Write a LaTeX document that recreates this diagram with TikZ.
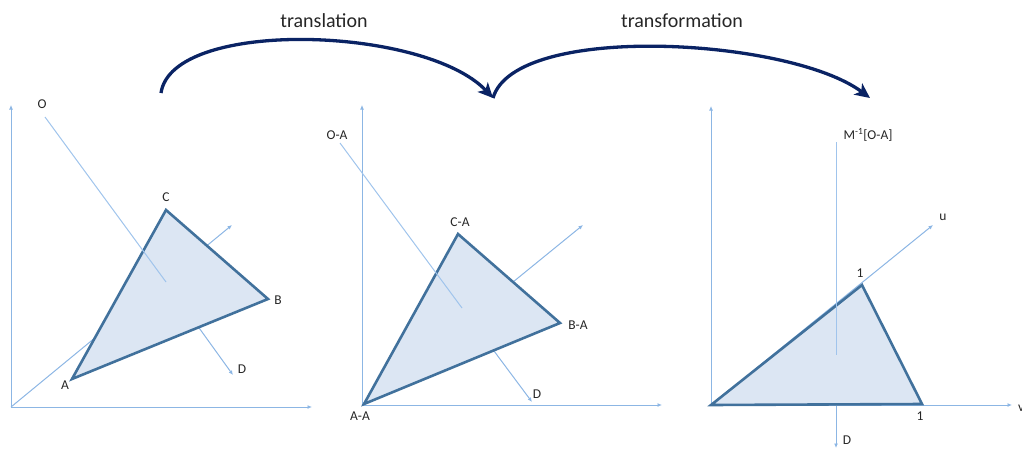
\documentclass[tikz,border=0pt]{standalone}
\usepackage{fontspec}
\setmainfont{Carlito}
\usetikzlibrary{arrows.meta}
\definecolor{axisblue}{RGB}{140,182,228}
\definecolor{faintblue}{RGB}{160,196,236}
\definecolor{triedge}{RGB}{65,113,156}
\definecolor{trifill}{RGB}{220,230,243}
\definecolor{navy}{RGB}{10,35,100}
\tikzset{
  axis/.style={draw=axisblue, line width=1pt, -{Latex[length=4.5pt,width=4pt]}},
  guide/.style={draw=faintblue, line width=1pt},
  tri/.style={draw=triedge, fill=trifill, line width=2.6pt, line join=miter},
  lbl/.style={font=\fontsize{13.5}{16}\selectfont, text=black!85, inner sep=0pt},
  ttl/.style={font=\fontsize{20}{24}\selectfont, text=black!85, inner sep=0pt},
  bigarc/.style={draw=navy, line width=3.3pt, -{Stealth[length=15pt,width=14pt,inset=4pt]}}
}
\begin{document}
\begin{tikzpicture}[x=1pt,y=-1pt]
\useasboundingbox (0,0) rectangle (1022,450);
% ---------- panel 1 ----------
\coordinate (o1) at (11,407);
\coordinate (A) at (72,379);
\coordinate (B) at (268,299);
\coordinate (C) at (166,210);
\coordinate (m1) at (166,282);
\coordinate (y1) at (11,105);
\coordinate (x1) at (312,407);
\coordinate (u1) at (232,225);
\coordinate (d1) at (233,375);
\coordinate (s1) at (45,117);
\draw[axis] (o1) -- (y1);
\draw[axis] (o1) -- (x1);
\draw[axis] (o1) -- (u1);
\draw[axis] (m1) -- (d1);
\draw[tri] (A) -- (B) -- (C) -- cycle;
\draw[guide] (s1) -- (m1);
\node[lbl] (lO) at (42,104) {O};
\node[lbl] (lC) at (166,197) {C};
\node[lbl] (lB) at (278,300) {B};
\node[lbl] (lA) at (65,385) {A};
\node[lbl] (lD1) at (242,369) {D};
% ---------- panel 2 ----------
\coordinate (o2) at (362,405);
\coordinate (A2) at (364,404);
\coordinate (B2) at (560,323);
\coordinate (C2) at (458,234);
\coordinate (m2) at (462,308);
\coordinate (y2) at (362,105);
\coordinate (x2) at (662,405);
\coordinate (u2) at (583,225);
\coordinate (d2) at (532,402);
\coordinate (s2) at (340,143);
\draw[axis] (o2) -- (y2);
\draw[axis] (o2) -- (x2);
\draw[axis] (o2) -- (u2);
\draw[axis] (m2) -- (d2);
\draw[tri] (A2) -- (B2) -- (C2) -- cycle;
\draw[guide] (s2) -- (m2);
\node[lbl] (lOA) at (337,135) {O-A};
\node[lbl] (lCA) at (460,222) {C-A};
\node[lbl] (lBA) at (578,325) {B-A};
\node[lbl] (lAA) at (360,416) {A-A};
\node[lbl] (lD2) at (537,394) {D};
% ---------- panel 3 ----------
\coordinate (o3) at (711,405);
\coordinate (P1) at (862,285);
\coordinate (P2) at (922,404);
\coordinate (y3) at (711,106);
\coordinate (x3) at (1012,405);
\coordinate (u3) at (933,225);
\coordinate (s3) at (836,142);
\coordinate (m3) at (836,355);
\coordinate (d3) at (836,448);
\draw[axis] (o3) -- (y3);
\draw[axis] (o3) -- (x3);
\draw[axis] (o3) -- (u3);
\draw[axis] (m3) -- (d3);
\draw[tri] (o3) -- (P2) -- (P1) -- cycle;
\draw[guide] (s3) -- (m3);
\node[lbl] (lM) at (868,135) {M\textsuperscript{-1}[O-A]};
\node[lbl] (lu) at (943,217) {u};
\node[lbl] (l1a) at (860,273) {1};
\node[lbl] (l1b) at (920,416) {1};
\node[lbl] (lD3) at (847,440) {D};
\node[lbl, anchor=west] (lv) at (1018,408) {v};
% ---------- arcs ----------
\coordinate (a0) at (161,93);
\coordinate (a1) at (493,98);
\coordinate (a2) at (870,98);
\draw[bigarc] (a0) .. controls (172,18) and (425,26) .. (a1);
\draw[bigarc] (a1) .. controls (515,22) and (790,38) .. (a2);
\node[ttl] (t1) at (324,21) {translation};
\node[ttl] (t2) at (682,21) {transformation};
\end{tikzpicture}
\end{document}
